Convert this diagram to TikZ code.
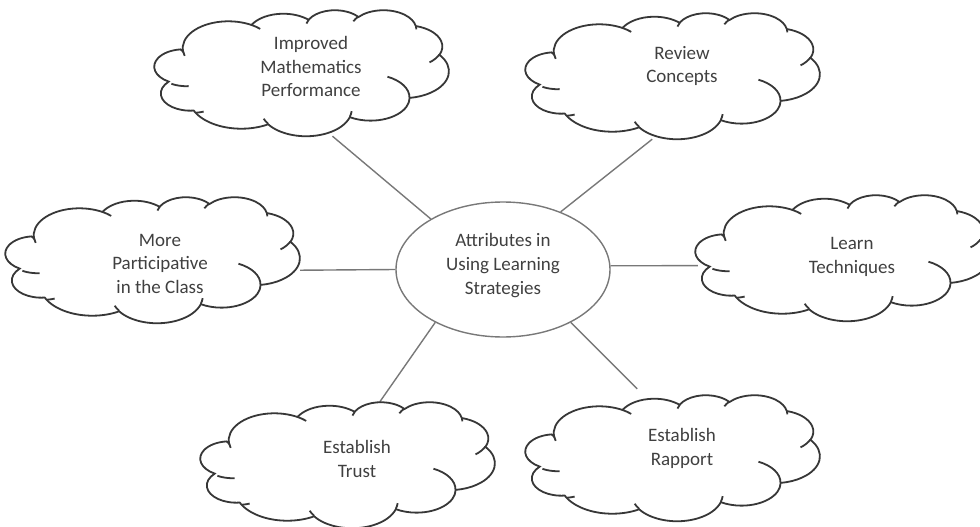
\documentclass[tikz,border=0pt]{standalone}
\usepackage{fontspec}
\setmainfont{Carlito}
\usepackage{tikz}
\usetikzlibrary{shapes.geometric}

\definecolor{outline}{RGB}{55,55,55}
\definecolor{linkgray}{RGB}{120,120,120}
\definecolor{textgray}{RGB}{64,64,64}

% one arc of the cloud outline: x radius, y radius, start and sweep (seen angles)
\newcommand{\cloudarc}[4]{arc[x radius=#1, y radius=#2, start angle={vpa(#1,#2,#3)}, delta angle={mod(vpa(#1,#2,#3+#4)-vpa(#1,#2,#3)+720,360)}]}

\tikzset{
  cloudline/.style={draw=outline, line width=1.8pt},
  cloudbox/.style={rectangle, minimum width=292, minimum height=126, inner sep=0pt},
  hub/.style={ellipse, draw=linkgray, line width=1.4pt, minimum width=214, minimum height=135, inner sep=0pt, align=center, text=textgray, font=\fontsize{19}{24}\selectfont},
  cloudtext/.style={align=center, text=textgray, inner sep=0.75pt, font=\fontsize{19}{23.5}\selectfont},
  link/.style={draw=linkgray, line width=1.4pt},
  pics/officecloud/.style={code={
    \begin{scope}[xscale=2.92, yscale=1.26]
      %Shape: Cloud outline
      \filldraw[cloudline, fill=white] (9.0278,33.2639)
        \cloudarc{15.6319}{21.2731}{-190.4875}{123.7805}
        \cloudarc{12.3449}{16.8218}{-144.1024}{89.9452}
        \cloudarc{10.1042}{13.7616}{-145.8079}{99.7230}
        \cloudarc{11.2431}{15.2662}{-130.9861}{117.2417}
        \cloudarc{12.3449}{16.8356}{-78.7089}{109.0269}
        \cloudarc{15.6829}{21.3426}{-46.2673}{130.2690}
        \cloudarc{13.3912}{18.2106}{0.6250}{114.0333}
        \cloudarc{15.6296}{21.3310}{22.4516}{115.1726}
        \cloudarc{17.8704}{24.4051}{66.2426}{82.2760}
        \cloudarc{10.0926}{13.6991}{-274.9421}{146.7356}
        \cloudarc{10.0579}{13.7616}{-246.8285}{152.5189}
        -- cycle;
      %Curve Lines: inner hooks
      \draw[cloudline]
        (10.8634,60.5949) \cloudarc{10.0579}{13.7616}{86.7420}{26.4295}
        (16.0370,80.7847) \cloudarc{10.0926}{13.6991}{73.6105}{11.4475}
        (38.1435,90.4861) \cloudarc{15.6296}{21.3310}{137.6242}{14.0811}
        (66.7292,80.4421) \cloudarc{15.6296}{21.3310}{6.4533}{15.9984}
        (79.0023,53.1343) \cloudarc{13.3912}{18.2106}{-70.2924}{70.9174}
        (96.7546,35.5417) \cloudarc{12.3449}{16.8356}{30.3180}{27.7515}
        (88.7130,12.5602) \cloudarc{11.2431}{15.2662}{-13.7443}{14.8589}
        (67.3102,9.1481) \cloudarc{11.2431}{15.2662}{-149.1815}{18.1954}
        (51.2523,10.9259) \cloudarc{10.1042}{13.7616}{-163.4943}{17.6864}
        (32.4074,12.0185) \cloudarc{15.6319}{21.2731}{-66.7070}{12.3194}
        (9.5532,36.5486) \cloudarc{15.6319}{21.2731}{157.6544}{11.8582};
    \end{scope}
  }}
}

\begin{document}
\begin{tikzpicture}[x=1pt,y=-1pt,
    declare function={vpa(\a,\b,\t)=atan2(\a*sin(\t),\b*cos(\t));}]
  \clip (0,0) rectangle (980,527);
  \useasboundingbox (0,0) rectangle (980,527);

  %Shape: Ellipse
  \node[hub] (hub) at (503,269.5) {Attributes in\\Using Learning\\Strategies\\[-12.5pt]};

  % cloud places
  \node[cloudbox] (perf) at (303,73) {};
  \node[cloudbox] (review) at (674,76) {};
  \node[cloudbox] (partic) at (154,260) {};
  \node[cloudbox] (learn) at (844,258) {};
  \node[cloudbox] (trust) at (349,465) {};
  \node[cloudbox] (rapport) at (674,458) {};

  %Straight Lines
  \draw[link] (hub.145) -- (perf.-65);
  \draw[link] (hub.45) -- (review.-109);
  \draw[link] (hub.180) -- (partic.-4);
  \draw[link] (hub.2) -- (learn.183);
  \draw[link] (hub.-142) -- (trust.64);
  \draw[link, shorten >=8.4pt] (hub.-38) -- (rapport.116);

  %Shape: Clouds
  \foreach \c in {perf,review,partic,learn,trust,rapport}
    \pic at (\c.north west) {officecloud};

  % Text Node
  \node[cloudtext] (perf-t) at (311,66.5) {Improved\\Mathematics\\Performance};
  % Text Node
  \node[cloudtext] (review-t) at (682,66) {Review\\Concepts};
  % Text Node
  \node[cloudtext] (partic-t) at (160,263.5) {More\\Participative\\in the Class};
  % Text Node
  \node[cloudtext] (learn-t) at (852,257) {Learn\\Techniques};
  % Text Node
  \node[cloudtext] (trust-t) at (357,459) {Establish\\Trust};
  % Text Node
  \node[cloudtext] (rapport-t) at (682,448.5) {Establish\\Rapport};
\end{tikzpicture}
\end{document}
